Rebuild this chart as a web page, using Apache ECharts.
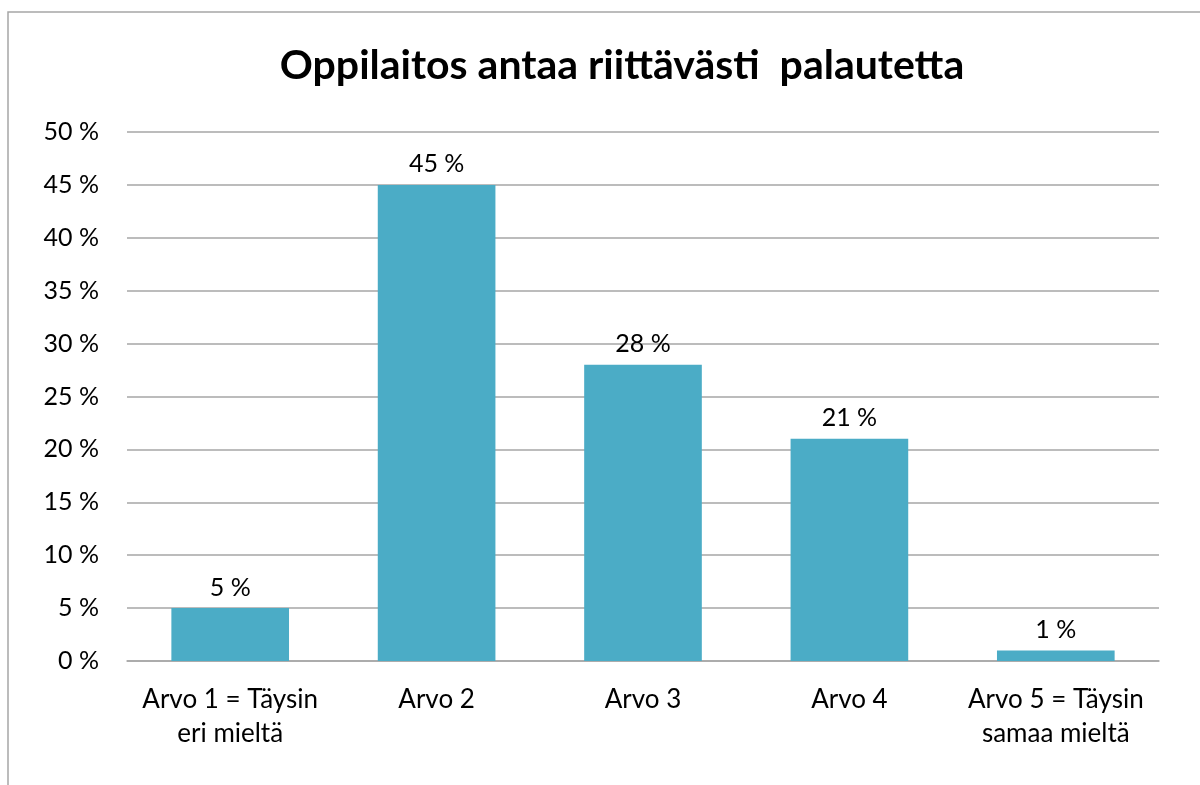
<!DOCTYPE html>
<html>
<head>
<meta charset="utf-8">
<script src="https://cdn.jsdelivr.net/npm/echarts@6/dist/echarts.min.js"></script>
<style>
  html, body { margin: 0; padding: 0; background: #fff; }
  #main { width: 1200px; height: 785px; }
</style>
</head>
<body>
<div id="main"></div>
<script>
// data
const categories = ['Arvo 1 = Täysin\neri mieltä', 'Arvo 2', 'Arvo 3', 'Arvo 4', 'Arvo 5 = Täysin\nsamaa mieltä'];
const values = [5, 45, 28, 21, 1];
const chartTitle = 'Oppilaitos antaa riittävästi  palautetta';

const chart = echarts.init(document.getElementById('main'));
const font = 'Lato, "Open Sans", sans-serif';

chart.setOption({
  animation: false,
  backgroundColor: '#fff',
  title: {
    text: chartTitle,
    left: 617,
    top: 40,
    textAlign: 'center',
    textStyle: { fontFamily: font, fontSize: 41, fontWeight: 'bold', color: '#000' }
  },
  graphic: [{
    type: 'rect',
    shape: { x: 8, y: 12, width: 1300, height: 900 },
    style: { fill: 'none', stroke: '#a6a6a6', lineWidth: 1.5 },
    silent: true
  }],
  grid: { left: 127, right: 41, top: 132, bottom: 124 },
  xAxis: {
    type: 'category',
    data: categories,
    axisLine: { show: true, lineStyle: { color: '#a6a6a6', width: 1.5 } },
    axisTick: { show: false },
    axisLabel: {
      interval: 0, margin: 22, fontFamily: font, fontSize: 26, color: '#000', lineHeight: 34
    }
  },
  yAxis: {
    type: 'value',
    min: 0,
    max: 50,
    interval: 5,
    axisLine: { show: false },
    axisTick: { show: false },
    splitLine: { lineStyle: { color: '#a6a6a6', width: 1.5 } },
    axisLabel: {
      margin: 28, fontFamily: font, fontSize: 25, color: '#000',
      formatter: v => v + ' %'
    }
  },
  series: [{
    type: 'bar',
    data: values,
    barCategoryGap: '43%',
    itemStyle: { color: '#4bacc6' },
    label: {
      show: true,
      position: 'top',
      distance: 8,
      fontFamily: font,
      fontSize: 25,
      color: '#000',
      formatter: p => p.value + ' %'
    }
  }]
});
</script>
</body>
</html>
